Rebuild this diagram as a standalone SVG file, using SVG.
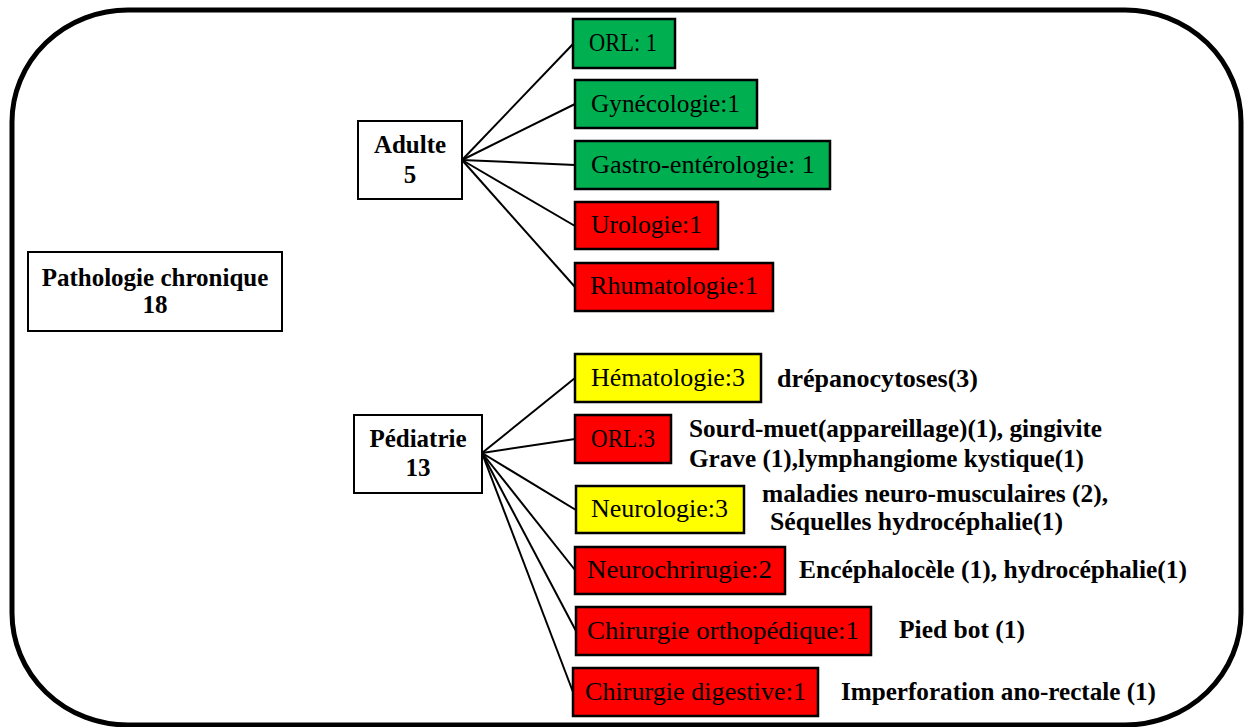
<svg xmlns="http://www.w3.org/2000/svg" width="1246" height="727" viewBox="0 0 1246 727">
<style>
  .frame { fill: none; stroke: #000; stroke-width: 5; }
  .node { fill: #fff; stroke: #000; stroke-width: 2; }
  .green { fill: #00b050; stroke: #000; stroke-width: 2.5; }
  .red { fill: #ff0000; stroke: #000; stroke-width: 2.5; }
  .yellow { fill: #ffff00; stroke: #000; stroke-width: 2.5; }
  .ntext { font-family: "Liberation Serif", "Times New Roman", serif; font-size: 25px; font-weight: bold; fill: #000; text-anchor: middle; }
  .btext { font-family: "Liberation Serif", "Times New Roman", serif; font-size: 26px; fill: #000; }
  .atext { font-family: "Liberation Serif", "Times New Roman", serif; font-size: 26px; font-weight: bold; fill: #000; }
  .conn line { stroke: #000; stroke-width: 2; }
</style>
<rect class="frame" x="12" y="10" width="1229" height="715" rx="116" ry="112"/>
<g id="connectors" class="conn">
  <line x1="462" y1="160" x2="573" y2="44"/>
  <line x1="462" y1="160" x2="575" y2="104"/>
  <line x1="462" y1="160" x2="575" y2="165"/>
  <line x1="462" y1="160" x2="575" y2="226"/>
  <line x1="462" y1="160" x2="575" y2="287"/>
  <line x1="482" y1="453" x2="575" y2="378"/>
  <line x1="482" y1="453" x2="575" y2="439"/>
  <line x1="482" y1="453" x2="576" y2="510"/>
  <line x1="482" y1="453" x2="575" y2="570"/>
  <line x1="482" y1="453" x2="576" y2="631"/>
  <line x1="482" y1="453" x2="573" y2="692"/>
</g>
<g id="pathologie">
  <rect class="node" x="28" y="252" width="254" height="79"/>
  <text class="ntext" x="155" y="286">Pathologie chronique</text>
  <text class="ntext" x="155" y="313">18</text>
</g>
<g id="adulte">
  <rect class="node" x="358" y="121" width="104" height="78"/>
  <text class="ntext" x="410" y="153">Adulte</text>
  <text class="ntext" x="410" y="183">5</text>
</g>
<g id="pediatrie">
  <rect class="node" x="354" y="415" width="128" height="78"/>
  <text class="ntext" x="418" y="447">Pédiatrie</text>
  <text class="ntext" x="418" y="476">13</text>
</g>
<g id="a-orl">
  <rect class="green" x="573" y="19" width="102" height="49"/>
  <text class="btext" x="589" y="51" textLength="68" lengthAdjust="spacingAndGlyphs">ORL: 1</text>
</g>
<g id="a-gyn">
  <rect class="green" x="575" y="80" width="182" height="48"/>
  <text class="btext" x="591" y="112" textLength="149" lengthAdjust="spacingAndGlyphs">Gynécologie:1</text>
</g>
<g id="a-gastro">
  <rect class="green" x="575" y="141" width="255" height="48"/>
  <text class="btext" x="591" y="173" textLength="224" lengthAdjust="spacingAndGlyphs">Gastro-entérologie: 1</text>
</g>
<g id="a-uro">
  <rect class="red" x="575" y="202" width="143" height="47"/>
  <text class="btext" x="591" y="233" textLength="111" lengthAdjust="spacingAndGlyphs">Urologie:1</text>
</g>
<g id="a-rhum">
  <rect class="red" x="575" y="263" width="198" height="48"/>
  <text class="btext" x="590" y="294" textLength="168" lengthAdjust="spacingAndGlyphs">Rhumatologie:1</text>
</g>
<g id="p-hema">
  <rect class="yellow" x="575" y="354" width="186" height="48"/>
  <text class="btext" x="591" y="386" textLength="154" lengthAdjust="spacingAndGlyphs">Hématologie:3</text>
  <text class="atext" x="777" y="387" textLength="201" lengthAdjust="spacingAndGlyphs">drépanocytoses(3)</text>
</g>
<g id="p-orl">
  <rect class="red" x="575" y="415" width="96" height="48"/>
  <text class="btext" x="591" y="447" textLength="64" lengthAdjust="spacingAndGlyphs">ORL:3</text>
  <text class="atext" x="689" y="437" textLength="413" lengthAdjust="spacingAndGlyphs">Sourd-muet(appareillage)(1), gingivite</text>
  <text class="atext" x="689" y="467" textLength="395" lengthAdjust="spacingAndGlyphs">Grave (1),lymphangiome kystique(1)</text>
</g>
<g id="p-neuro">
  <rect class="yellow" x="576" y="486" width="168" height="47"/>
  <text class="btext" x="591" y="517" textLength="137" lengthAdjust="spacingAndGlyphs">Neurologie:3</text>
  <text class="atext" x="762" y="502" textLength="346" lengthAdjust="spacingAndGlyphs">maladies neuro-musculaires (2),</text>
  <text class="atext" x="770" y="530" textLength="293" lengthAdjust="spacingAndGlyphs">Séquelles hydrocéphalie(1)</text>
</g>
<g id="p-neurochir">
  <rect class="red" x="575" y="547" width="210" height="47"/>
  <text class="btext" x="587" y="578" textLength="185" lengthAdjust="spacingAndGlyphs">Neurochrirugie:2</text>
  <text class="atext" x="799" y="578" textLength="388" lengthAdjust="spacingAndGlyphs">Encéphalocèle (1), hydrocéphalie(1)</text>
</g>
<g id="p-ortho">
  <rect class="red" x="576" y="607" width="295" height="48"/>
  <text class="btext" x="587" y="639" textLength="272" lengthAdjust="spacingAndGlyphs">Chirurgie orthopédique:1</text>
  <text class="atext" x="899" y="638" textLength="126" lengthAdjust="spacingAndGlyphs">Pied bot (1)</text>
</g>
<g id="p-dig">
  <rect class="red" x="573" y="668" width="245" height="48"/>
  <text class="btext" x="585" y="700" textLength="221" lengthAdjust="spacingAndGlyphs">Chirurgie digestive:1</text>
  <text class="atext" x="841" y="700" textLength="315" lengthAdjust="spacingAndGlyphs">Imperforation ano-rectale (1)</text>
</g>
</svg>
